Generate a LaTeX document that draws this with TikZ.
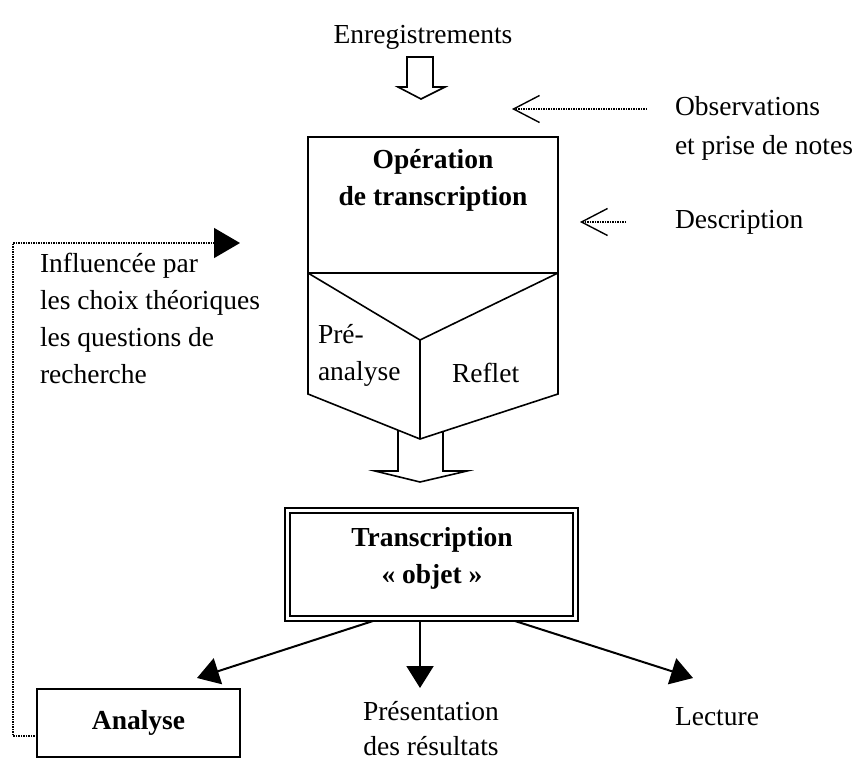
\documentclass[tikz,border=0pt]{standalone}
\usepackage{fontspec}
\setmainfont{Liberation Serif}
\usetikzlibrary{arrows.meta}
\begin{document}
\begin{tikzpicture}[x=1pt,y=-1pt,
  txt/.style={inner sep=0pt,outer sep=0pt,font=\fontsize{27.5pt}{37pt}\selectfont},
  btxt/.style={inner sep=0pt,outer sep=0pt,font=\fontsize{27.5pt}{37pt}\selectfont\bfseries},
  box/.style={draw,line width=1.6pt,inner sep=0pt,outer sep=0pt},
  shapeline/.style={line width=1.6pt,line join=miter},
  dotline/.style={line width=1.4pt,dash pattern=on 1.2pt off 1.3pt},
  openhead/.style={-{Straight Barb[length=26pt,width=27pt,line width=1.4pt]}},
  solidarrow/.style={line width=2pt,-{Triangle[length=22pt,width=27pt]}},
  fbhead/.style={-{Triangle[length=26pt,width=30pt]}},
]
\useasboundingbox (0,0) rectangle (859,763);

% texts
\node[txt] (enr) at (423,37) {Enregistrements};
\node[txt,align=left,anchor=west,font=\fontsize{27.5pt}{39pt}\selectfont] (obs) at (675,128) {Observations\\et prise de notes};
\node[txt,anchor=west] (desc) at (675,222) {Description};
\node[txt,align=left,anchor=west] (infl) at (40,318) {Influencée par\\les choix théoriques\\les questions de\\recherche};

% operation box
\node[box,minimum width=250pt,minimum height=136pt] (op) at (433,205) {};
\node[btxt,align=center] (opt) at (433,180) {Opération\\de transcription};

% lower folded shape
\coordinate (pl) at (308,394);
\coordinate (pm) at (420,340);
\coordinate (pb) at (420,439);
\coordinate (pr) at (558,394);
\draw[shapeline] (op.south west) -- (pl) -- (pb) -- (pr) -- (op.south east) -- (pm) -- cycle;
\draw[shapeline] (pm) -- (pb);
\node[txt,align=left,anchor=west] (pre) at (318,355) {Pré-\\analyse};
\node[txt,anchor=west] (refl) at (452,373) {Reflet};

% hollow arrows
\draw[shapeline] (407,57) -- (407,87) -- (398,87) -- (421,99) -- (445,87) -- (433,87) -- (433,57) -- cycle;
\draw[shapeline] (398,430) -- (398,471) -- (375,471) -- (420,482) -- (467,471) -- (443,471) -- (443,431);

% dotted arrows on the right
\coordinate (obsS) at (647,109);
\coordinate (obsT) at (512,109);
\draw[dotline,openhead] (obsS) -- (obsT);
\draw[dotline,openhead] ([xshift=-49pt]desc.west) -- ([xshift=-95pt]desc.west);

% transcription objet
\node[draw,line width=2.4pt,minimum width=293pt,minimum height=113pt,inner sep=0pt,outer sep=0pt] (tr) at (431.5,564.5) {};
\draw[line width=1.1pt] ([xshift=5pt,yshift=-5pt]tr.north west) rectangle ([xshift=-5pt,yshift=5pt]tr.south east);
\node[btxt,align=center] (trt) at (432,558) {Transcription\\« objet »};

% bottom nodes
\node[box,minimum width=203pt,minimum height=68pt,font=\fontsize{27.5pt}{37pt}\selectfont\bfseries] (an) at (138.5,723) {Analyse};
\node[txt,align=center,font=\fontsize{27.5pt}{35pt}\selectfont] (pres) at (431,729) {Présentation\\des résultats};
\node[txt,anchor=west] (lec) at (675,717) {Lecture};

\coordinate (tipL) at (197,678);
\coordinate (tipM) at (420,688);
\coordinate (tipR) at (693,678);
\draw[solidarrow] ([xshift=-58.5pt]tr.south) -- (tipL);
\draw[solidarrow] ([xshift=-11.5pt]tr.south) -- (tipM);
\draw[solidarrow] ([xshift=83.5pt]tr.south) -- (tipR);

% feedback dotted line
\coordinate (fbA) at (13,736);
\coordinate (fbB) at (13,243);
\coordinate (fbT) at (240,243);
\draw[dotline,fbhead] ([yshift=-13pt]an.west) -- (fbA) -- (fbB) -- (fbT);
\end{tikzpicture}
\end{document}
